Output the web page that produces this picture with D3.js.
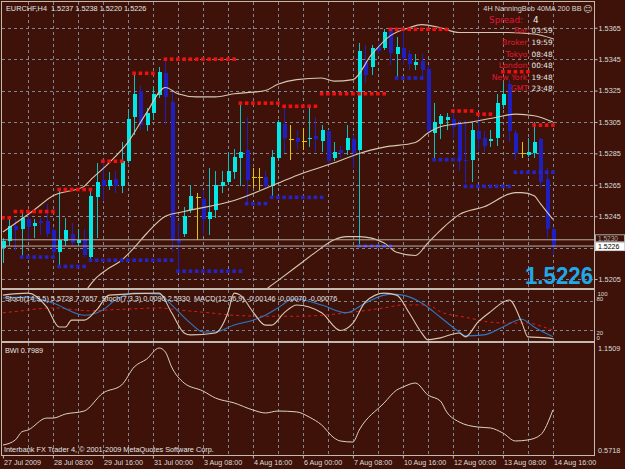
<!DOCTYPE html>
<html>
<head>
<meta charset="utf-8">
<script src="https://cdn.jsdelivr.net/npm/d3@7"></script>
<style>
  body { margin: 0; background: #3e1208; }
  svg { display: block; }
  text { font-family: "Liberation Sans", Arial, sans-serif; }
</style>
</head>
<body>
<svg id="chart" width="625" height="469"></svg>
<script>
// EURCHF H4, one bar every 4 hours, 27 Jul 2009 00:00 .. 14 Aug 16:00
var opens = [1.5225, 1.5229, 1.5239, 1.5237, 1.5243, 1.5239, 1.5242, 1.5242, 1.5236, 1.5222,
    1.5229, 1.5234, 1.5228, 1.5230, 1.5219, 1.5257, 1.5268, 1.5264, 1.5269, 1.5264,
    1.5280, 1.5308, 1.5325, 1.5303, 1.5311, 1.5322, 1.5336, 1.5318, 1.5230, 1.5234,
    1.5249, 1.5257, 1.5256, 1.5243, 1.5249, 1.5264, 1.5267, 1.5273, 1.5282, 1.5287,
    1.5270, 1.5270, 1.5270, 1.5264, 1.5282, 1.5304, 1.5294, 1.5295, 1.5293, 1.5294,
    1.5296, 1.5293, 1.5299, 1.5282, 1.5287, 1.5287, 1.5294, 1.5287, 1.5343, 1.5340,
    1.5353, 1.5352, 1.5364, 1.5348, 1.5352, 1.5348, 1.5341, 1.5344, 1.5339, 1.5298,
    1.5304, 1.5306, 1.5307, 1.5304, 1.5281, 1.5281, 1.5299, 1.5295, 1.5293, 1.5295,
    1.5316, 1.5329, 1.5298, 1.5285, 1.5284, 1.5285, 1.5294, 1.5269, 1.5237];
var highs = [1.5231, 1.5244, 1.5243, 1.5247, 1.5246, 1.5243, 1.5244, 1.5253, 1.5238, 1.5262,
    1.5244, 1.5241, 1.5237, 1.5237, 1.5262, 1.5279, 1.5279, 1.5273, 1.5274, 1.5292,
    1.5313, 1.5336, 1.5328, 1.5314, 1.5328, 1.5340, 1.5345, 1.5324, 1.5241, 1.5251,
    1.5265, 1.5260, 1.5262, 1.5276, 1.5274, 1.5274, 1.5286, 1.5288, 1.5317, 1.5308,
    1.5276, 1.5276, 1.5274, 1.5287, 1.5306, 1.5315, 1.5303, 1.5300, 1.5301, 1.5315,
    1.5308, 1.5303, 1.5300, 1.5292, 1.5290, 1.5303, 1.5297, 1.5355, 1.5354, 1.5354,
    1.5355, 1.5364, 1.5365, 1.5359, 1.5364, 1.5351, 1.5348, 1.5348, 1.5341, 1.5317,
    1.5310, 1.5311, 1.5311, 1.5306, 1.5306, 1.5305, 1.5308, 1.5299, 1.5300, 1.5323,
    1.5330, 1.5332, 1.5300, 1.5292, 1.5295, 1.5305, 1.5295, 1.5276, 1.5238];
var lows = [1.5215, 1.5226, 1.5223, 1.5219, 1.5229, 1.5231, 1.5233, 1.5232, 1.5219, 1.5213,
    1.5226, 1.5226, 1.5226, 1.5219, 1.5218, 1.5231, 1.5255, 1.5262, 1.5260, 1.5260,
    1.5279, 1.5297, 1.5300, 1.5299, 1.5306, 1.5320, 1.5304, 1.5222, 1.5211, 1.5232,
    1.5247, 1.5230, 1.5234, 1.5233, 1.5244, 1.5260, 1.5265, 1.5269, 1.5264, 1.5254,
    1.5263, 1.5262, 1.5263, 1.5257, 1.5281, 1.5285, 1.5281, 1.5288, 1.5287, 1.5289,
    1.5286, 1.5286, 1.5279, 1.5280, 1.5282, 1.5284, 1.5276, 1.5226, 1.5330, 1.5335,
    1.5348, 1.5351, 1.5341, 1.5333, 1.5341, 1.5338, 1.5338, 1.5334, 1.5298, 1.5282,
    1.5294, 1.5300, 1.5295, 1.5274, 1.5266, 1.5267, 1.5287, 1.5286, 1.5289, 1.5290,
    1.5313, 1.5292, 1.5281, 1.5282, 1.5283, 1.5282, 1.5263, 1.5231, 1.5220];
var closes = [1.5229, 1.5239, 1.5236, 1.5244, 1.5238, 1.5241, 1.5241, 1.5234, 1.5222, 1.5230,
    1.5236, 1.5228, 1.5230, 1.5220, 1.5258, 1.5267, 1.5264, 1.5268, 1.5264, 1.5280,
    1.5307, 1.5323, 1.5303, 1.5311, 1.5323, 1.5337, 1.5321, 1.5230, 1.5228, 1.5245,
    1.5258, 1.5257, 1.5243, 1.5248, 1.5265, 1.5267, 1.5274, 1.5283, 1.5286, 1.5268,
    1.5270, 1.5270, 1.5264, 1.5283, 1.5305, 1.5295, 1.5294, 1.5292, 1.5293, 1.5295,
    1.5294, 1.5300, 1.5280, 1.5286, 1.5285, 1.5295, 1.5285, 1.5350, 1.5335, 1.5352,
    1.5350, 1.5362, 1.5349, 1.5353, 1.5346, 1.5342, 1.5343, 1.5338, 1.5299, 1.5305,
    1.5309, 1.5308, 1.5302, 1.5281, 1.5280, 1.5300, 1.5294, 1.5290, 1.5294, 1.5317,
    1.5323, 1.5299, 1.5285, 1.5285, 1.5286, 1.5292, 1.5267, 1.5237, 1.5226];

// NanningBob levels: [first bar, last bar, price]
var resLevels = [[0, 1, 1.5244], [2, 8, 1.5248], [9, 14, 1.5262], [16, 19, 1.5280], [21, 24, 1.5336],
    [26, 37, 1.5345], [38, 44, 1.5317], [45, 50, 1.5315], [51, 61, 1.5323], [62, 71, 1.5364],
    [72, 75, 1.5312], [76, 78, 1.5310], [80, 84, 1.5337], [85, 88, 1.5303]];
var supLevels = [[3, 8, 1.5219], [9, 13, 1.5213], [14, 27, 1.5217], [28, 38, 1.5210], [39, 42, 1.5253],
    [43, 51, 1.5257], [57, 62, 1.5226], [63, 67, 1.5333], [69, 73, 1.5281], [74, 81, 1.5264],
    [82, 88, 1.5273]];

// band / MA lines, [bar, price]
var bandUpper = [[0, 1.5235], [5, 1.5249], [8, 1.5258], [13, 1.5264], [14, 1.5268], [17, 1.5279], [20, 1.5292],
    [23, 1.5311], [26, 1.5327], [28, 1.5323], [31, 1.5321], [34, 1.5321], [37, 1.5323], [40, 1.5324],
    [42, 1.5325], [44, 1.5329], [47, 1.5332], [51, 1.5333], [53, 1.5331], [56, 1.5332], [59, 1.5348],
    [62, 1.5360], [65, 1.5365], [67, 1.5367], [70, 1.5365], [73, 1.5362], [76, 1.5362], [80, 1.5362],
    [85, 1.5361], [88, 1.5358]];
var ma40 = [[12, 1.5190], [13, 1.5196], [15, 1.5206], [17, 1.5212], [19, 1.5217], [21, 1.5225], [23, 1.5234],
    [26, 1.5245], [29, 1.5248], [37, 1.5255], [44, 1.5266], [47, 1.5271], [53, 1.5279], [57, 1.5285],
    [61, 1.5289], [66, 1.5292], [68, 1.5298], [70, 1.5302], [75, 1.5305], [79, 1.5308], [82, 1.5310],
    [85, 1.5309], [88, 1.5305]];
var bandLower = [[40, 1.5190], [42, 1.5198], [44, 1.5204], [47, 1.5213], [50, 1.5222], [53, 1.5230],
    [55, 1.5232], [57, 1.5232], [61, 1.5228], [63, 1.5222], [66, 1.5220], [68, 1.5228], [70, 1.5236],
    [73, 1.5246], [77, 1.5251], [82, 1.5260], [83, 1.5260], [85, 1.5258], [86, 1.5253], [88, 1.5243]];

// sub window 1, [bar, value]
var stochFast = [[0, 92], [4, 96], [7, 68], [9, 27], [10, 27], [11, 41], [13, 41], [15, 62], [17, 92], [25, 96],
    [27, 56], [29, 15], [30, 11], [34, 15], [36, 56], [37, 96], [38, 92], [40, 58], [42, 31], [43, 31],
    [45, 56], [47, 72], [51, 56], [54, 20], [56, 35], [58, 78], [61, 96], [63, 92], [65, 56], [67, 15],
    [68, 1], [70, 5], [73, 15], [74, 7], [76, 37], [78, 58], [81, 82], [83, 37], [84, 7], [87, 5], [88, 3]];
var stochSlow = [[0, 86], [4, 88], [8, 76], [13, 51], [16, 62], [18, 82], [21, 96], [25, 94], [27, 72], [30, 35],
    [32, 17], [34, 17], [37, 31], [40, 41], [42, 51], [44, 66], [46, 82], [47, 84], [51, 72], [55, 56],
    [58, 76], [62, 94], [64, 92], [67, 76], [70, 47], [73, 17], [74, 9], [77, 11], [80, 27], [83, 43],
    [85, 27], [88, 7]];
var macdLine = [[0, 56], [3, 60], [8, 66], [14, 60], [17, 62], [21, 64], [25, 66], [28, 62], [33, 56], [37, 51],
    [42, 49], [47, 49], [51, 51], [55, 56], [61, 66], [64, 72], [68, 72], [70, 58], [74, 47], [78, 37],
    [81, 35], [84, 35], [87, 25], [88, 21]];

// sub window 2
var bwi = [[0, 0.600], [2, 0.629], [3, 0.674], [4, 0.685], [7, 0.753], [8, 0.753], [10, 0.776], [13, 0.793],
    [16, 0.895], [19, 0.941], [21, 1.043], [23, 1.088], [25, 1.1509], [26, 1.128], [27, 1.043], [29, 0.952],
    [32, 0.907], [34, 0.867], [37, 0.839], [40, 0.799], [42, 0.782], [44, 0.793], [47, 0.788], [49, 0.759],
    [51, 0.714], [53, 0.640], [54, 0.623], [56, 0.617], [57, 0.685], [61, 0.839], [63, 0.912], [64, 0.929],
    [66, 0.952], [68, 0.884], [70, 0.850], [71, 0.788], [73, 0.731], [76, 0.702], [78, 0.697], [80, 0.668],
    [82, 0.623], [84, 0.629], [86, 0.657], [88, 0.7989]];

var dateLabels = ["27 Jul 2009", "28 Jul 08:00", "29 Jul 16:00", "31 Jul 00:00", "3 Aug 08:00", "4 Aug 16:00",
    "6 Aug 00:00", "7 Aug 08:00", "10 Aug 16:00", "12 Aug 00:00", "13 Aug 08:00", "14 Aug 16:00"];
var priceTicks = [1.5205, 1.5225, 1.5245, 1.5265, 1.5285, 1.5305, 1.5325, 1.5345, 1.5365];
var stochTicks = ["100", "80", "20", "0"];
var ask = 1.5230, bid = 1.5226;

var infoLabels = ["Bar:", "Broker:", "Tokyo:", "London:", "New York:", "GMT:"];
var infoValues = ["03:59", "19:59", "08:48", "00:48", "19:48", "23:48"];

var bg = "#3e1208", gridColor = "#7d8593", frame = "#c4bab0";
var bullBody = "#00e8e8", bullWick = "#10c0c0", bearColor = "#1f1fc0", dojiColor = "#e0c800";

var svg = d3.select("#chart");
svg.append("rect").attr("width", 625).attr("height", 469).attr("fill", bg);

var left = 2, right = 594;
var main = { top: 2, bottom: 288 }, sub1 = { top: 290, bottom: 341 }, sub2 = { top: 343, bottom: 455 };

var x = d3.scaleLinear().domain([0, 88]).range([2.9, 552.9]);
var y = d3.scaleLinear().domain([1.51993, 1.53814]).range([main.bottom, main.top]);
var yStoch = d3.scaleLinear().domain([0, 100]).range([340.3, 291.2]);
var yBwi = d3.scaleLinear().domain([0.5718, 1.1509]).range([450, 348]);

// clip paths, one per window
var defs = svg.append("defs");
[["clipMain", main], ["clipSub1", sub1], ["clipSub2", sub2]].forEach(function (c) {
    defs.append("clipPath").attr("id", c[0]).append("rect")
        .attr("x", left).attr("y", c[1].top).attr("width", right - left).attr("height", c[1].bottom - c[1].top);
});

// grid: verticals every 4 bars across all windows
var vBars = d3.range(4, 89, 4);
[main, sub1, sub2].forEach(function (p) {
    svg.append("g").selectAll("line").data(vBars).enter().append("line")
        .attr("x1", d => Math.round(x(d)) + 0.5).attr("x2", d => Math.round(x(d)) + 0.5)
        .attr("y1", p.top).attr("y2", p.bottom)
        .attr("stroke", gridColor).attr("stroke-dasharray", "3,3");
});
svg.append("g").selectAll("line").data(priceTicks).enter().append("line")
    .attr("x1", left).attr("x2", right)
    .attr("y1", d => Math.round(y(d)) + 0.5).attr("y2", d => Math.round(y(d)) + 0.5)
    .attr("stroke", gridColor).attr("stroke-dasharray", "3,3");
svg.append("g").selectAll("line").data([80, 20]).enter().append("line")
    .attr("x1", left).attr("x2", right)
    .attr("y1", d => Math.round(yStoch(d)) + 0.5).attr("y2", d => Math.round(yStoch(d)) + 0.5)
    .attr("stroke", gridColor).attr("stroke-dasharray", "3,3");

// candles
var bars = d3.range(opens.length).map(function (i) {
    return { i: i, o: opens[i], h: highs[i], l: lows[i], c: closes[i] };
});
function barColor(d, wick) {
    if (d.o === d.c) return dojiColor;
    if (d.c > d.o) return wick ? bullWick : bullBody;
    return bearColor;
}
var gMain = svg.append("g").attr("clip-path", "url(#clipMain)");
var candles = gMain.append("g").attr("shape-rendering", "crispEdges");
candles.selectAll("line").data(bars).enter().append("line")
    .attr("x1", d => Math.round(x(d.i)) + 0.5).attr("x2", d => Math.round(x(d.i)) + 0.5)
    .attr("y1", d => y(d.h)).attr("y2", d => y(d.l))
    .attr("stroke", d => barColor(d, true));
candles.selectAll("rect").data(bars).enter().append("rect")
    .attr("x", d => Math.round(x(d.i)) - 1.5)
    .attr("width", d => d.o === d.c ? 5 : 4)
    .attr("y", d => y(Math.max(d.o, d.c)))
    .attr("height", d => Math.max(1, y(Math.min(d.o, d.c)) - y(Math.max(d.o, d.c))))
    .attr("fill", d => barColor(d, false));

// MA and bands
var priceLine = d3.line().x(d => x(d[0])).y(d => y(d[1])).curve(d3.curveMonotoneX);
[bandUpper, ma40, bandLower].forEach(function (s) {
    gMain.append("path").datum(s).attr("d", priceLine)
        .attr("fill", "none").attr("stroke", "#d8c8b2").attr("stroke-width", 1.1);
});

// level dots
function levelDots(levels, color) {
    var dots = [];
    levels.forEach(function (lv) {
        d3.range(lv[0], lv[1] + 1).forEach(function (b) { dots.push({ b: b, p: lv[2] }); });
    });
    gMain.append("g").selectAll("rect").data(dots).enter().append("rect")
        .attr("x", d => x(d.b) - 1.8).attr("y", d => y(d.p) - 1.8)
        .attr("width", 3.6).attr("height", 3.6).attr("fill", color);
}
levelDots(resLevels, "#f01010");
levelDots(supLevels, "#2424c8");

// bid / ask lines
gMain.selectAll(".pl").data([ask, bid]).enter().append("line")
    .attr("x1", left).attr("x2", right)
    .attr("y1", d => y(d)).attr("y2", d => y(d))
    .attr("stroke", "#b8aea6").attr("stroke-width", 1);

// stoch / macd window
var gSub1 = svg.append("g").attr("clip-path", "url(#clipSub1)");
var stochLine = d3.line().x(d => x(d[0])).y(d => yStoch(d[1])).curve(d3.curveMonotoneX);
gSub1.append("path").datum(macdLine).attr("d", stochLine)
    .attr("fill", "none").attr("stroke", "#e01818").attr("stroke-dasharray", "3,3");
gSub1.append("path").datum(stochSlow).attr("d", stochLine)
    .attr("fill", "none").attr("stroke", "#2f78c8").attr("stroke-width", 1.1);
gSub1.append("path").datum(stochFast).attr("d", stochLine)
    .attr("fill", "none").attr("stroke", "#d8c8b2").attr("stroke-width", 1.1);

// BWI window
var gSub2 = svg.append("g").attr("clip-path", "url(#clipSub2)");
gSub2.append("path").datum(bwi)
    .attr("d", d3.line().x(d => x(d[0])).y(d => yBwi(d[1])).curve(d3.curveMonotoneX))
    .attr("fill", "none").attr("stroke", "#ddd2c2").attr("stroke-width", 1);

// window frames
[main, sub1, sub2].forEach(function (p) {
    svg.append("rect").attr("x", left - 0.5).attr("y", p.top - 0.5)
        .attr("width", right - left + 1).attr("height", p.bottom - p.top + 1)
        .attr("fill", "none").attr("stroke", frame).attr("stroke-width", 1);
});

// price axis; the 1.5225 label sits under the bid box, so it is left blank
var fmt = d3.format(".4f");
var yAxis = d3.axisRight(y).tickValues(priceTicks).tickSize(3).tickPadding(1)
    .tickFormat(d => Math.abs(d - bid) < 0.0004 ? "" : fmt(d));
var gy = svg.append("g").attr("transform", "translate(" + (right + 0.5) + ",0)").call(yAxis);
gy.select(".domain").remove();
gy.selectAll("line").attr("stroke", frame);
gy.selectAll("text").attr("fill", "#dcdcdc").style("font-size", "7.3px");

// current price boxes
svg.append("rect").attr("x", 595.5).attr("y", y(ask) - 5).attr("width", 29).attr("height", 7)
    .attr("fill", bg).attr("stroke", "#a8a8a8");
svg.append("text").attr("x", 598).attr("y", y(ask) + 1).attr("fill", "#b0b0b0")
    .style("font-size", "6.5px").text(ask.toFixed(4));
svg.append("rect").attr("x", 595.5).attr("y", y(bid) - 3.5).attr("width", 29).attr("height", 8)
    .attr("fill", "#ffffff").attr("stroke", "#d0d0d0");
svg.append("text").attr("x", 598).attr("y", y(bid) + 3).attr("fill", "#000")
    .style("font-size", "7px").text(bid.toFixed(4));

// stoch window labels
svg.selectAll(".st").data(stochTicks).enter().append("text")
    .attr("x", d => d === "100" ? 597.5 : 596.5)
    .attr("y", function (d) { return yStoch(+d) + (d === "100" || d === "20" ? 4.5 : -0.5); })
    .attr("fill", "#dcdcdc").style("font-size", "6px").text(d => d);
svg.selectAll(".bw").data(yBwi.domain()).enter().append("text")
    .attr("x", 598).attr("y", d => yBwi(d) + 2.5)
    .attr("fill", "#dcdcdc").style("font-size", "7.3px").text(d => d.toFixed(4));

// time axis
var labelBars = d3.range(0, 89, 8);
var xAxis = d3.axisBottom(x).tickValues(labelBars).tickFormat((d, i) => dateLabels[i]).tickSize(3).tickPadding(1);
var gx = svg.append("g").attr("transform", "translate(0," + (sub2.bottom + 0.5) + ")").call(xAxis);
gx.select(".domain").remove();
gx.selectAll("line").attr("stroke", frame);
gx.selectAll("text").attr("text-anchor", "start").attr("x", 0.5)
    .attr("fill", "#dcdcdc").style("font-size", "7.2px");

// texts
function label(tx, ty, s, size, color, anchor, family) {
    return svg.append("text").attr("x", tx).attr("y", ty).attr("fill", color)
        .attr("text-anchor", anchor || "start")
        .style("font-size", size + "px").style("font-family", family || null).text(s);
}
label(6, 10.5, "EURCHF,H4  1.5237 1.5238 1.5220 1.5226", 7.3, "#e4e4e4").style("white-space", "pre");
label(5, 300.5, "Stoch(14,3,5) 5.5728 7.7657  Stoch(7,3,3) 0.0090 2.5330  MACD(12,26,9) -0.00146 -0.00070 -0.00076", 7.3, "#e4e4e4").style("white-space", "pre");
label(5, 352.5, "BWI 0.7989", 7.3, "#e4e4e4");
label(4, 452, "Interbank FX Trader 4, \u00a9 2001-2009 MetaQuotes Software Corp.", 7.3, "#e4e4e4");

label(581.5, 11, "4H NanningBob 40MA 200 BB", 7.3, "#d8d8d8", "end");
label(583, 11.5, "\u263a", 9, "#d8d8d8", "start", "DejaVu Sans");
label(523, 22.5, "Spread:", 8.8, "#e0143c", "end", "DejaVu Sans");
label(533, 22.5, "4", 8.8, "#e8e8e8", "start", "DejaVu Sans");
infoLabels.forEach(function (s, k) {
    label(530, 33.3 + k * 11.6, s, 7.8, "#e01830", "end", "DejaVu Sans");
    label(531.5, 33.3 + k * 11.6, infoValues[k], 7.3, "#e8e8e8", "start", "DejaVu Sans");
});

label(593, 284, bid.toFixed(4), 24, "#20a8e8", "end").style("font-weight", "bold")
    .attr("textLength", 68).attr("lengthAdjust", "spacingAndGlyphs");
</script>
</body>
</html>
